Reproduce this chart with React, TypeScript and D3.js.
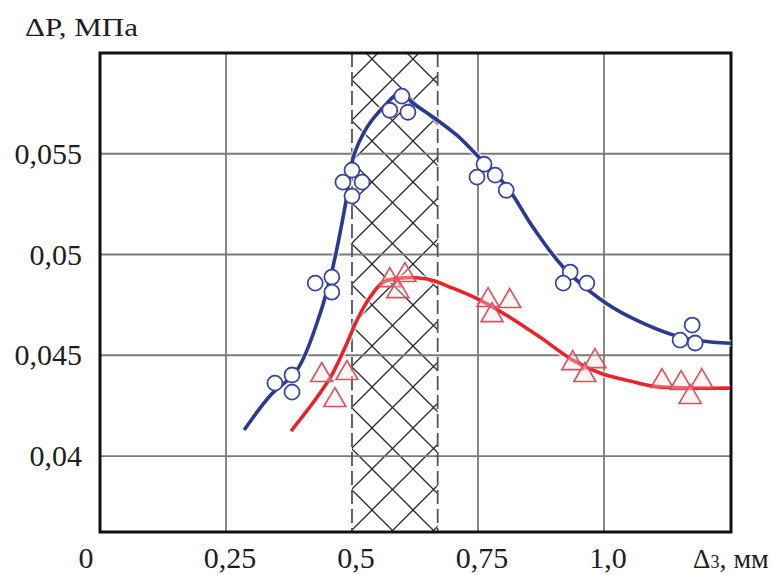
import React from "react";
import * as d3 from "d3";

// ---- data ----
const xTicks = [0.25, 0.5, 0.75, 1.0];
const xTickLabels = ["0,25", "0,5", "0,75", "1,0"];
const yTicks = [0.04, 0.045, 0.05, 0.055];
const yTickLabels = ["0,04", "0,045", "0,05", "0,055"];
const hatchRange = [0.5, 0.67];

// blue curve (upper)
const blueCurveX = [0.286, 0.337, 0.391, 0.437, 0.462, 0.486, 0.502, 0.53, 0.562, 0.595, 0.621, 0.661, 0.708, 0.748, 0.808, 0.859, 0.919, 0.992, 1.052, 1.151, 1.216, 1.252];
const blueCurveY = [0.04129, 0.04298, 0.04427, 0.04709, 0.04937, 0.05235, 0.05478, 0.05632, 0.05731, 0.05801, 0.05751, 0.05682, 0.05592, 0.05493, 0.05334, 0.05136, 0.04938, 0.04779, 0.04689, 0.0459, 0.04565, 0.0456];
const blueMarkX = [0.347, 0.381, 0.381, 0.427, 0.46, 0.46, 0.5, 0.482, 0.52, 0.5, 0.599, 0.575, 0.611, 0.762, 0.748, 0.784, 0.806, 0.933, 0.919, 0.966, 1.175, 1.151, 1.181];
const blueMarkY = [0.04362, 0.04402, 0.04317, 0.04858, 0.04888, 0.04813, 0.05419, 0.05359, 0.05359, 0.0529, 0.05786, 0.05716, 0.05706, 0.05448, 0.05384, 0.05394, 0.05319, 0.04913, 0.04858, 0.04858, 0.0465, 0.04575, 0.04561];

// red curve (lower)
const redCurveX = [0.379, 0.431, 0.462, 0.49, 0.51, 0.536, 0.562, 0.595, 0.649, 0.7, 0.754, 0.813, 0.873, 0.938, 0.992, 1.052, 1.097, 1.185, 1.25];
const redCurveY = [0.04124, 0.04293, 0.04412, 0.0456, 0.04675, 0.04789, 0.04863, 0.04883, 0.04878, 0.04833, 0.04774, 0.04689, 0.0459, 0.04476, 0.04412, 0.04372, 0.04347, 0.04337, 0.04337];
const redMarkX = [0.44, 0.49, 0.466, 0.575, 0.605, 0.591, 0.77, 0.813, 0.778, 0.938, 0.982, 0.962, 1.115, 1.153, 1.194, 1.171];
const redMarkY = [0.04417, 0.04427, 0.04293, 0.04888, 0.04913, 0.04833, 0.04789, 0.04784, 0.04714, 0.04476, 0.04486, 0.04417, 0.04387, 0.04377, 0.04387, 0.04308];

const W = 780;
const H = 575;
const L = 100, R = 731, T = 53, B = 532;

export default function App() {
  const xs = d3.scaleLinear().domain([0, 1.252]).range([L, R]);
  const ys = d3.scaleLinear().domain([0.03623, 0.06]).range([B, T]);

  const line = d3
    .line<[number, number]>()
    .x((d) => xs(d[0]))
    .y((d) => ys(d[1]))
    .curve(d3.curveCatmullRom.alpha(0.5));

  const blueData = blueCurveX.map((x, i) => [x, blueCurveY[i]] as [number, number]);
  const redData = redCurveX.map((x, i) => [x, redCurveY[i]] as [number, number]);

  const hx0 = xs(hatchRange[0]);
  const hx1 = xs(hatchRange[1]);
  const fontStyle = { fontFamily: "'Liberation Serif', 'Times New Roman', Times, serif" };
  const txt = "#1e1e1e";

  const triW = 22, triH = 19;
  const xBase = 568;

  return (
    <svg
      width={W}
      height={H}
      style={{ position: "fixed", left: 0, top: 0, background: "#fff" }}
    >
      <defs>
        <pattern id="hatch" patternUnits="userSpaceOnUse" x={372 % 41} y={510 % 41} width={41} height={41}>
          <line x1={0} y1={0} x2={41} y2={41} stroke="#2a2a2a" strokeWidth={1.3} />
          <line x1={41} y1={0} x2={0} y2={41} stroke="#2a2a2a" strokeWidth={1.3} />
        </pattern>
      </defs>
      <rect x={0} y={0} width={W} height={H} fill="#fff" />
      {/* hatched zone */}
      <rect x={hx0} y={T} width={hx1 - hx0} height={B - T} fill="url(#hatch)" />

      {/* grid */}
      {xTicks.map((t) =>
        t === 0.5 ? null : (
          <line key={"gx" + t} x1={xs(t)} x2={xs(t)} y1={T} y2={B} stroke="#7a7a7a" strokeWidth={1.8} />
        )
      )}
      {yTicks.map((t) => (
        <line key={"gy" + t} x1={L} x2={R} y1={ys(t)} y2={ys(t)} stroke="#7a7a7a" strokeWidth={1.8} />
      ))}
      {/* dashed boundaries of hatched zone */}
      {hatchRange.map((t) => (
        <line key={"hb" + t} x1={xs(t)} x2={xs(t)} y1={T} y2={B} stroke="#555" strokeWidth={1.8} strokeDasharray="14 5" />
      ))}

      {/* frame */}
      <rect x={L} y={T} width={R - L} height={B - T} fill="none" stroke="#111" strokeWidth={3} />

      {/* curves */}
      <path d={line(blueData) || ""} fill="none" stroke="#fff" strokeWidth={7} strokeOpacity={0.6} />
      <path d={line(redData) || ""} fill="none" stroke="#fff" strokeWidth={7} strokeOpacity={0.6} />
      <path d={line(blueData) || ""} fill="none" stroke="#2b3990" strokeWidth={3.6} strokeLinecap="butt" />
      <path d={line(redData) || ""} fill="none" stroke="#e8242b" strokeWidth={3.6} strokeLinecap="butt" />

      {/* markers */}
      {blueMarkX.map((x, i) => (
        <circle key={"bc" + i} cx={xs(x)} cy={ys(blueMarkY[i])} r={7.5} fill="#fff" stroke="#3b45a0" strokeWidth={1.8} />
      ))}
      {redMarkX.map((x, i) => {
        const cx = xs(x);
        const cy = ys(redMarkY[i]);
        const p = `M${cx},${cy - triH / 2} L${cx + triW / 2},${cy + triH / 2} L${cx - triW / 2},${cy + triH / 2} Z`;
        return <path key={"rt" + i} d={p} fill="rgba(255,225,225,0.35)" stroke="#d9505e" strokeWidth={1.6} />;
      })}

      {/* y tick labels */}
      {yTicks.map((t, i) => (
        <text key={"yl" + t} x={82} y={ys(t) + 10} textAnchor="end" fontSize={30} fill={txt} style={fontStyle}>
          {yTickLabels[i]}
        </text>
      ))}
      {/* x tick labels */}
      <text x={86} y={xBase} textAnchor="middle" fontSize={30} fill={txt} style={fontStyle}>0</text>
      {xTicks.map((t, i) => (
        <text key={"xl" + t} x={xs(t) + 4} y={xBase} textAnchor="middle" fontSize={30} fill={txt} style={fontStyle}>
          {xTickLabels[i]}
        </text>
      ))}
      {/* axis titles */}
      <text x={25} y={36} fontSize={25} fill={txt} textLength={113} lengthAdjust="spacingAndGlyphs" style={fontStyle}>
        ΔP, МПа
      </text>
      <text x={693} y={xBase} fontSize={27} fill={txt} style={fontStyle}>
        Δ<tspan fontSize={18}>3</tspan>
        <tspan fontSize={28}>, мм</tspan>
      </text>
    </svg>
  );
}
